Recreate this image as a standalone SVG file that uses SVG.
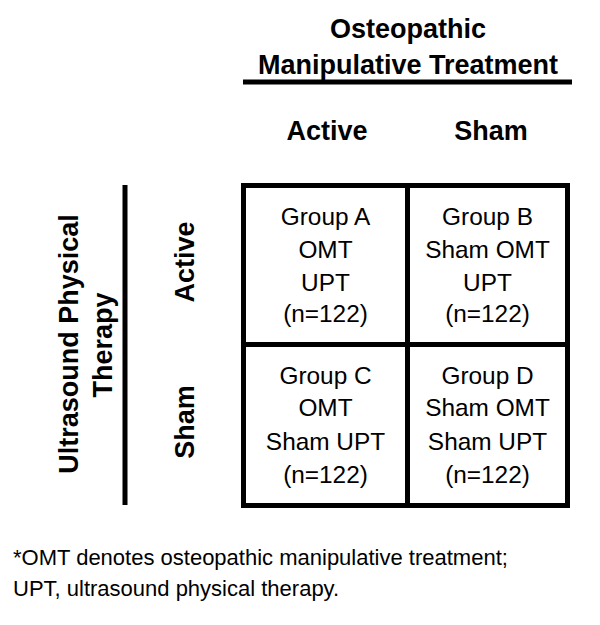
<svg xmlns="http://www.w3.org/2000/svg" width="600" height="625" viewBox="0 0 600 625">
<style>
.h{font-family:"Liberation Sans",Arial,sans-serif;font-weight:bold;font-size:27px;fill:#000;text-anchor:middle}
.c{font-family:"Liberation Sans",Arial,sans-serif;font-size:24.4px;fill:#000;text-anchor:middle}
.f{font-family:"Liberation Sans",Arial,sans-serif;font-size:22px;fill:#000}
.ln{stroke:#000;stroke-width:5;fill:none}
</style>
<rect width="600" height="625" fill="#fff"/>
<g id="omt-header">
<text class="h" x="408" y="38">Osteopathic</text>
<text class="h" x="408" y="73.5">Manipulative Treatment</text>
</g>
<g id="col-active"><text class="h" x="327" y="140">Active</text></g>
<g id="col-sham"><text class="h" x="491" y="140">Sham</text></g>
<g id="upt-header">
<text class="h" transform="translate(78,344) rotate(-90)">Ultrasound Physical</text>
<text class="h" transform="translate(112,345) rotate(-90)">Therapy</text>
</g>
<g id="row-active"><text class="h" transform="translate(194,262) rotate(-90)">Active</text></g>
<g id="row-sham"><text class="h" transform="translate(194,422) rotate(-90)">Sham</text></g>
<g id="connectors">
<line class="ln" x1="243" y1="82" x2="572" y2="82"/>
<line class="ln" x1="125" y1="185" x2="125" y2="505"/>
<rect class="ln" x="243.5" y="185.5" width="324" height="320"/>
<line class="ln" x1="407.5" y1="185.5" x2="407.5" y2="505.5"/>
<line class="ln" x1="243.5" y1="344.5" x2="567.5" y2="344.5"/>
</g>
<g id="group-a">
<text class="c" x="325.5" y="225">Group A</text>
<text class="c" x="325.5" y="258">OMT</text>
<text class="c" x="325.5" y="290.5">UPT</text>
<text class="c" x="325.5" y="322">(n=122)</text>
</g>
<g id="group-b">
<text class="c" x="487.5" y="225">Group B</text>
<text class="c" x="487.5" y="258">Sham OMT</text>
<text class="c" x="487.5" y="290.5">UPT</text>
<text class="c" x="487.5" y="322">(n=122)</text>
</g>
<g id="group-c">
<text class="c" x="325.5" y="383.5">Group C</text>
<text class="c" x="325.5" y="416">OMT</text>
<text class="c" x="325.5" y="449.5">Sham UPT</text>
<text class="c" x="325.5" y="483">(n=122)</text>
</g>
<g id="group-d">
<text class="c" x="487.5" y="383.5">Group D</text>
<text class="c" x="487.5" y="416">Sham OMT</text>
<text class="c" x="487.5" y="449.5">Sham UPT</text>
<text class="c" x="487.5" y="483">(n=122)</text>
</g>
<g id="footnote">
<text class="f" x="13" y="565">*OMT denotes osteopathic manipulative treatment;</text>
<text class="f" x="13" y="596">UPT, ultrasound physical therapy.</text>
</g>
</svg>
